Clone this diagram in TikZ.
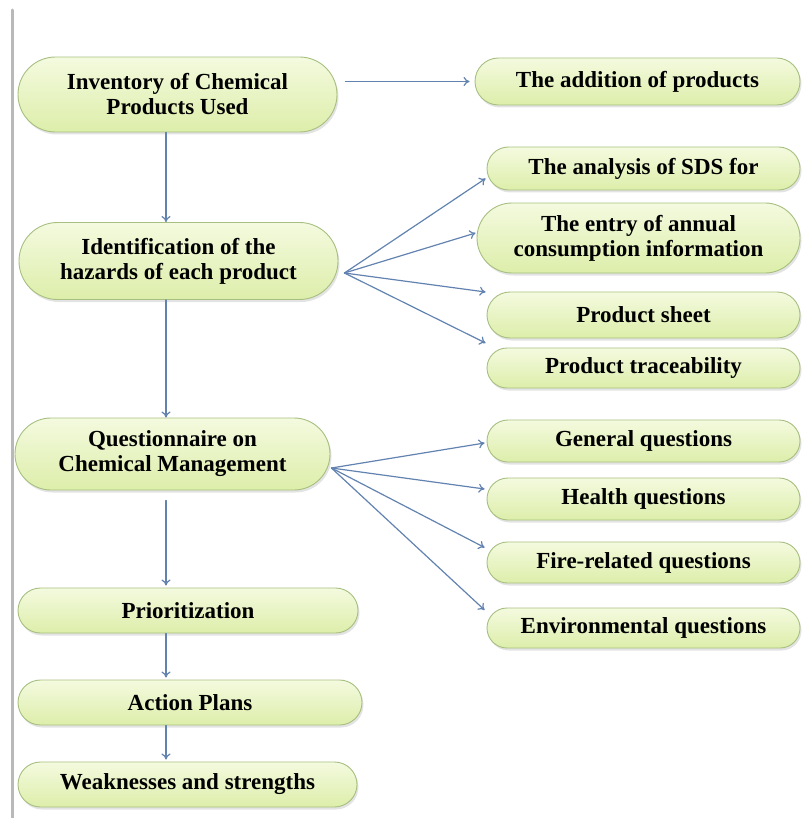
\documentclass[tikz,border=0pt]{standalone}
\usepackage{fontspec}
\setmainfont{Liberation Serif}
\usetikzlibrary{shapes.misc,shadows,arrows.meta}
\definecolor{boxtop}{HTML}{F4FADF}
\definecolor{boxbot}{HTML}{DDEEAA}
\definecolor{boxline}{HTML}{A7BF80}
\definecolor{arrowblue}{HTML}{6282B0}
\tikzset{
  stage/.style={rounded rectangle,draw=boxline,line width=0.9pt,
    top color=boxtop,bottom color=boxbot,align=center,inner sep=0pt,
    font=\bfseries\fontsize{23}{25}\selectfont,
    drop shadow={opacity=0.22,shadow xshift=1.5pt,shadow yshift=-2.5pt}},
  flow/.style={-{To[length=6pt,width=9pt]},draw=arrowblue,line width=1.2pt}
}
\begin{document}
\begin{tikzpicture}[x=1pt,y=-1pt,line cap=round,line join=round]
  \useasboundingbox (0,0) rectangle (803,818);
  \draw[line width=3pt,gray!55] (12,10) -- (12,818);
  \coordinate (spine) at (166,0);
  % main column
  \node[stage,minimum width=319pt,minimum height=75pt] (inv) at (177.5,94.5) {Inventory of Chemical\\Products Used};
  \node[stage,minimum width=319pt,minimum height=77pt] (haz) at (178.5,261) {Identification of the\\hazards of each product};
  \node[stage,minimum width=315pt,minimum height=72pt] (quest) at (172.5,454) {Questionnaire on\\Chemical Management};
  \node[stage,minimum width=340pt,minimum height=45pt] (prior) at (188,610.5) {Prioritization};
  \node[stage,minimum width=344pt,minimum height=45pt] (plans) at (190,702.5) {Action Plans};
  \node[stage,minimum width=339pt,minimum height=45pt] (weak) at (187.5,784.5) {Weaknesses and strengths};
  % right column
  \node[stage,minimum width=325pt,minimum height=47pt] (add) at (637.5,81.5) {The addition of products};
  \node[stage,minimum width=313pt,minimum height=43pt] (sds) at (643.5,168.5) {The analysis of SDS for};
  \node[stage,minimum width=323pt,minimum height=70pt] (entry) at (638.5,238) {The entry of annual\\consumption information};
  \node[stage,minimum width=313pt,minimum height=46pt] (sheet) at (643.5,315) {Product sheet};
  \node[stage,minimum width=313pt,minimum height=40pt] (trace) at (643.5,368) {Product traceability};
  \node[stage,minimum width=313pt,minimum height=42pt] (gen) at (643.5,441) {General questions};
  \node[stage,minimum width=313pt,minimum height=42pt] (health) at (643.5,499) {Health questions};
  \node[stage,minimum width=313pt,minimum height=41pt] (fire) at (643.5,562.5) {Fire-related questions};
  \node[stage,minimum width=313pt,minimum height=40pt] (env) at (643.5,628) {Environmental questions};
  % arrows down
  \draw[flow] (inv.south -| spine) -- (haz.north -| spine);
  \draw[flow] (haz.south -| spine) -- (quest.north -| spine);
  \draw[flow,shorten <=10pt] (quest.south -| spine) -- ([yshift=2pt]prior.north -| spine);
  \draw[flow] (prior.south -| spine) -- ([yshift=2pt]plans.north -| spine);
  \draw[flow] (plans.south -| spine) -- ([yshift=2pt]weak.north -| spine);
  % arrows right
  \draw[flow] ([xshift=8pt]inv.east |- add.west) -- ([xshift=-5pt]add.west);
  \coordinate (hazfan) at ([xshift=6pt,yshift=-12pt]haz.east);
  \foreach \t/\dy in {sds/-10,entry/5,sheet/23,trace/25}
    \draw[flow] (hazfan) -- ([xshift=-1pt,yshift=\dy pt]\t.west);
  \coordinate (questfan) at ([xshift=1pt,yshift=-14pt]quest.east);
  \foreach \t/\dy in {gen/-2,health/10,fire/15,env/18}
    \draw[flow] (questfan) -- ([xshift=-2pt,yshift=\dy pt]\t.west);
\end{tikzpicture}
\end{document}
